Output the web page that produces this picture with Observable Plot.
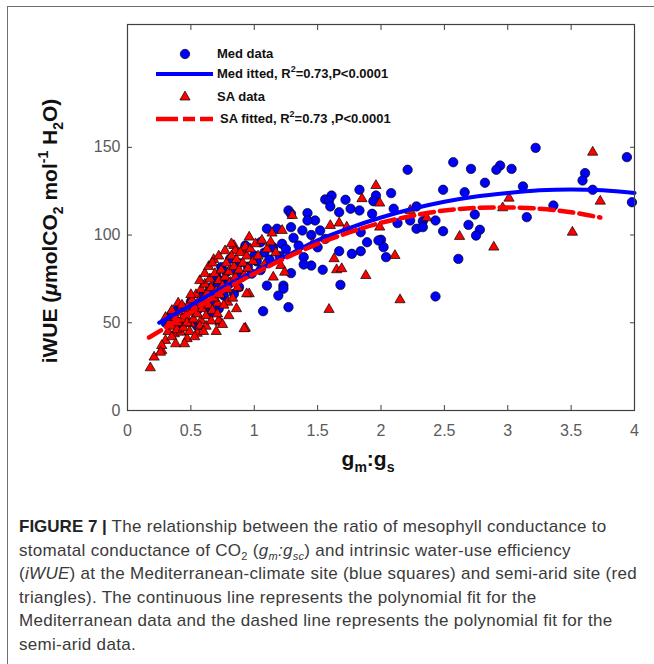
<!DOCTYPE html>
<html>
<head>
<meta charset="utf-8">
<script src="https://cdn.jsdelivr.net/npm/d3@7"></script>
<script src="https://cdn.jsdelivr.net/npm/@observablehq/plot@0.6"></script>
<style>
  html, body { margin: 0; padding: 0; background: #fff; }
  #page { position: relative; width: 654px; height: 664px; overflow: hidden; background: #fff; }
  #frameline { position: absolute; left: 7px; top: 6px; width: 660px; height: 700px; border-left: 1.5px solid #6f6f6f; border-top: 1.5px solid #6f6f6f; }
  #chart { position: absolute; left: 0; top: 0; }
  .leg { position: absolute; font: bold 13px "Liberation Sans", Arial, sans-serif; color: #111; white-space: nowrap; line-height: 16px; }
  .leg sup { font-size: 9px; vertical-align: 6px; line-height: 0; }
  .sym { position: absolute; }
  #caption { position: absolute; left: 19px; top: 515px; font: 17px/23.5px "Liberation Sans", Arial, sans-serif; letter-spacing: 0.3px; color: #3a3a3a; white-space: nowrap; }
  #caption b { color: #222; letter-spacing: 0; }
  #caption sub { font-size: 11px; vertical-align: -4px; line-height: 0; }
</style>
</head>
<body>
<div id="page">
  <div id="frameline"></div>
  <div id="chart"></div>
  <svg class="sym" style="left:150px;top:44px" width="70" height="90">
    <circle cx="35" cy="10" r="4.7" fill="#0000ff" stroke="#000" stroke-width="0.7"></circle>
    <line x1="6" y1="30" x2="63" y2="30" stroke="#0000ff" stroke-width="4"></line>
    <path d="M35,47.1L40.1,56L29.9,56Z" fill="#ff0000" stroke="#000" stroke-width="0.7"></path>
    <line x1="6" y1="75" x2="63" y2="75" stroke="#ff0000" stroke-width="4.5" stroke-dasharray="22,5,12,5"></line>
  </svg>
  <div class="leg" style="left:217px;top:46px">Med data</div>
  <div class="leg" style="left:217px;top:66px">Med itted, R<sup>2</sup>=0.73,P&lt;0.0001</div>
  <div class="leg" style="left:217px;top:89px">SA data</div>
  <div class="leg" style="left:220px;top:111px">SA fitted, R<sup>2</sup>=0.73 ,P&lt;0.0001</div>
  <div id="caption"><b>FIGURE 7 |</b> The relationship between the ratio of mesophyll conductance to<br>stomatal conductance of CO<sub>2</sub> (<i>g<sub>m</sub>:g<sub>sc</sub></i>) and intrinsic water-use efficiency<br>(<i>iWUE</i>) at the Mediterranean-climate site (blue squares) and semi-arid site (red<br>triangles). The continuous line represents the polynomial fit for the<br>Mediterranean data and the dashed line represents the polynomial fit for the<br>semi-arid data.</div>
</div>
<script>
// ---- Data ----
const xTicks = [0, 0.5, 1, 1.5, 2, 2.5, 3, 3.5, 4];
const yTicks = [0, 50, 100, 150];

// Mediterranean site (blue circles)
const medX = [3.22,3.94,2.57,2.21,2.71,2.94,2.91,3.03,3.61,3.59,2.82,2.08,1.96,1.94,2.49,2.66,3.12,3.67,3.98,3.36,2.28,2.10,1.93,2.13,2.23,2.33,2.28,2.33,2.43,2.49,2.74,2.69,2.78,2.75,3.15,2.00,2.02,2.04,2.61,2.43,
  1.83,1.61,1.56,1.59,1.72,1.76,1.83,1.67,1.60,1.27,1.29,1.42,1.48,1.42,1.10,1.18,1.29,1.38,1.31,1.52,1.56,1.84,1.89,1.84,1.77,1.98,1.67,1.39,1.45,1.54,1.39,1.29,1.68,1.23,1.23,1.19,1.27,1.07,1.10,0.93,1.05,1.00,0.84,0.76,0.88,0.81,0.74,0.71,
  0.30,0.35,0.40,0.45,0.50,0.55,0.60,0.62,0.65,0.68,0.70,0.75,0.78,0.80,0.85,0.88,0.90,0.95,0.98,1.02,1.05,1.08,1.12,1.15,1.20,1.22,1.25,1.35,1.45,1.50,0.55,0.42,0.65,0.72];
const medY = [149.7,144.4,141.5,137.2,137.7,139.6,137.2,137.7,135.3,131.1,129.8,123.9,122.5,119.3,125.8,124.4,127.7,125.8,118.7,116.8,116.3,115,112.1,106.8,108.3,107.9,103.6,104.5,108.3,102.2,111.7,105.8,103,99.7,110.2,97.3,93.1,87.4,86.4,65,
  125.8,122.5,120.3,119.7,120.1,115,114,113,116.3,114,112.1,112.5,108.3,108.3,103.6,103.6,104.5,102.6,98.4,102.6,97.8,101.6,95.9,90.8,89.3,96.9,90.8,87.4,82.6,80.2,83.2,78.3,71.6,71.2,69.4,65.5,58.9,56.6,71.2,94,95.9,88.3,66.5,65.5,70.3,86.5,81.7,73.1,
  50,55,58,52,62,57,66,60,70,63,77,74,79,72,80,84,76,82,78,85,80,90,86,93,88,95,92,94,100,93,48,47,55,58];

// Semi-arid site (red triangles)
const saX = [3.67,1.96,1.99,2.23,3.01,2.96,3.73,2.36,1.99,2.62,2.89,3.51,2.11,2.15,1.85,1.30,1.60,1.67,1.73,1.14,1.22,0.96,0.84,0.90,1.63,1.46,1.21,1.15,1.24,1.65,1.69,1.88,1.59,0.93,0.96,0.79,0.73,0.47,0.18,0.21,0.27,0.30,0.27,0.40,0.26,0.37,0.42,0.50,0.58,0.72,0.92,0.71,0.94,0.85,0.93,
  0.32,0.33,0.35,0.36,0.38,0.39,0.40,0.41,0.43,0.44,0.45,0.46,0.47,0.48,0.49,0.50,0.51,0.52,0.53,0.54,0.55,0.56,0.57,0.58,0.59,0.60,0.61,0.62,0.63,0.64,0.65,0.66,0.67,0.68,0.69,0.70,0.71,0.72,0.73,0.74,0.75,0.76,0.77,0.78,0.79,0.80,0.81,0.82,0.83,0.84,0.85,0.86,0.87,0.88,0.89,0.91,0.92,0.94,0.95,0.97,0.99,1.01,1.03,1.06,1.08,1.10,1.13,1.17,
  0.55,0.62,0.66,0.43,0.50,0.57,0.61,0.64,0.68,0.35,0.30,0.38,0.45,0.53,0.60,0.70,0.75,0.80,0.86,0.67,0.72,0.77,0.82];
const saY = [147.2,128.2,118.2,114,121,115.5,119.3,109.8,104.5,99.2,93.1,101.6,88.3,63.1,120.7,111.1,105.4,106.8,104.5,101.1,102.6,98.8,94,90.8,86.5,95,82.6,76,78.8,80.2,80.8,76.9,57.6,46.9,66.5,61.7,50.3,40.9,24.3,30.4,34.2,39.9,37,61.2,33.2,43.7,44.6,49.4,51.3,51.3,46.6,61.2,66.5,91.2,93.1,
  45,50,42,48,53,46,50,56,52,47,58,54,50,60,45,56,63,52,59,66,55,62,48,69,58,64,72,54,67,60,75,70,57,64,78,68,55,74,66,80,71,60,76,84,69,79,73,88,64,82,76,86,70,80,90,84,77,88,81,92,85,95,88,97,83,92,96,90,
  44,48,51,60,66,74,78,82,86,57,53,38,38,42,45,45,49,54,58,84,88,91,95];

// Fitted curves
const medFitX = [0.25,0.5,0.75,1,1.25,1.5,1.75,2,2.25,2.5,2.75,3,3.25,3.5,3.75,4];
const medFitY = [50,60,70,79,88,97,104,110,115,119,122,124,125.5,126,125.5,124];
const saFitX = [0.17,0.5,0.75,1,1.25,1.5,1.75,2,2.25,2.5,2.75,3,3.25,3.5,3.73];
const saFitY = [41.6,56,68,78,87,95,101.5,107,111,114,115.5,115.7,115,113,110];

const med = medX.map((x, i) => ({x, y: medY[i]}));
const sa = saX.map((x, i) => ({x, y: saY[i]}));
const medFit = medFitX.map((x, i) => ({x, y: medFitY[i]}));
const saFit = saFitX.map((x, i) => ({x, y: saFitY[i]}));

const tickColor = "#404040";
const plot = Plot.plot({
  width: 654,
  height: 490,
  marginLeft: 127,
  marginRight: 20,
  marginTop: 24,
  marginBottom: 80,
  x: {domain: [0, 4]},
  y: {domain: [0, 220]},
  style: {fontFamily: "'Liberation Sans', Arial, sans-serif", fontSize: "16px", background: "transparent"},
  marks: [
    // tick labels
    Plot.axisX(xTicks, {anchor: "bottom", tickSize: 0, tickPadding: 14, label: null, fill: "#5a5a5a", fontSize: 16, tickFormat: d => String(d)}),
    Plot.axisY(yTicks, {anchor: "left", tickSize: 0, tickPadding: 7, label: null, fill: "#5a5a5a", fontSize: 16, tickFormat: d => String(d)}),
    // inward tick marks on all four sides
    Plot.axisX(xTicks, {anchor: "bottom", tickSize: 5, dy: -5, label: null, stroke: tickColor, tickFormat: () => ""}),
    Plot.axisX(xTicks, {anchor: "top", tickSize: 5, dy: 5, label: null, stroke: tickColor, tickFormat: () => ""}),
    Plot.axisY(yTicks, {anchor: "left", tickSize: 5, dx: 5, label: null, stroke: tickColor, tickFormat: () => ""}),
    Plot.axisY(yTicks, {anchor: "right", tickSize: 5, dx: -5, label: null, stroke: tickColor, tickFormat: () => ""}),
    // data
    Plot.dot(med, {x: "x", y: "y", r: 4.7, fill: "#0000ff", stroke: "#000", strokeWidth: 0.7}),
    Plot.dot(sa, {x: "x", y: "y", r: 3.8, symbol: "triangle", fill: "#ff0000", stroke: "#000", strokeWidth: 0.7}),
    Plot.line(medFit, {x: "x", y: "y", stroke: "#0000ff", strokeWidth: 4, curve: "catmull-rom"}),
    Plot.line(saFit, {x: "x", y: "y", stroke: "#ff0000", strokeWidth: 4.5, strokeDasharray: "14,6", curve: "catmull-rom"}),
    Plot.frame({stroke: tickColor, strokeWidth: 1.2})
  ]
});
document.getElementById("chart").appendChild(plot);

// axis titles with sub/superscripts
const svg = d3.select(plot);
const ylab = svg.append("text")
  .attr("transform", "translate(57,231) rotate(-90)")
  .attr("text-anchor", "middle")
  .attr("font-family", "'Liberation Sans', Arial, sans-serif")
  .attr("font-weight", "bold")
  .attr("font-size", 21)
  .attr("fill", "#111");
ylab.append("tspan").text("iWUE (");
ylab.append("tspan").attr("font-style", "italic").text("μ");
ylab.append("tspan").text("molCO");
ylab.append("tspan").attr("font-size", 14).attr("dy", 6).text("2");
ylab.append("tspan").attr("dy", -6).text(" mol");
ylab.append("tspan").attr("font-size", 14).attr("dy", -9).text("-1");
ylab.append("tspan").attr("dy", 9).text(" H");
ylab.append("tspan").attr("font-size", 14).attr("dy", 6).text("2");
ylab.append("tspan").attr("dy", -6).text("O)");

const xlab = svg.append("text")
  .attr("x", 368).attr("y", 466)
  .attr("text-anchor", "middle")
  .attr("font-family", "'Liberation Sans', Arial, sans-serif")
  .attr("font-weight", "bold")
  .attr("font-size", 21)
  .attr("fill", "#111");
xlab.append("tspan").text("g");
xlab.append("tspan").attr("font-size", 14).attr("dy", 6).text("m");
xlab.append("tspan").attr("dy", -6).text(":g");
xlab.append("tspan").attr("font-size", 14).attr("dy", 6).text("s");
</script>
</body>
</html>
